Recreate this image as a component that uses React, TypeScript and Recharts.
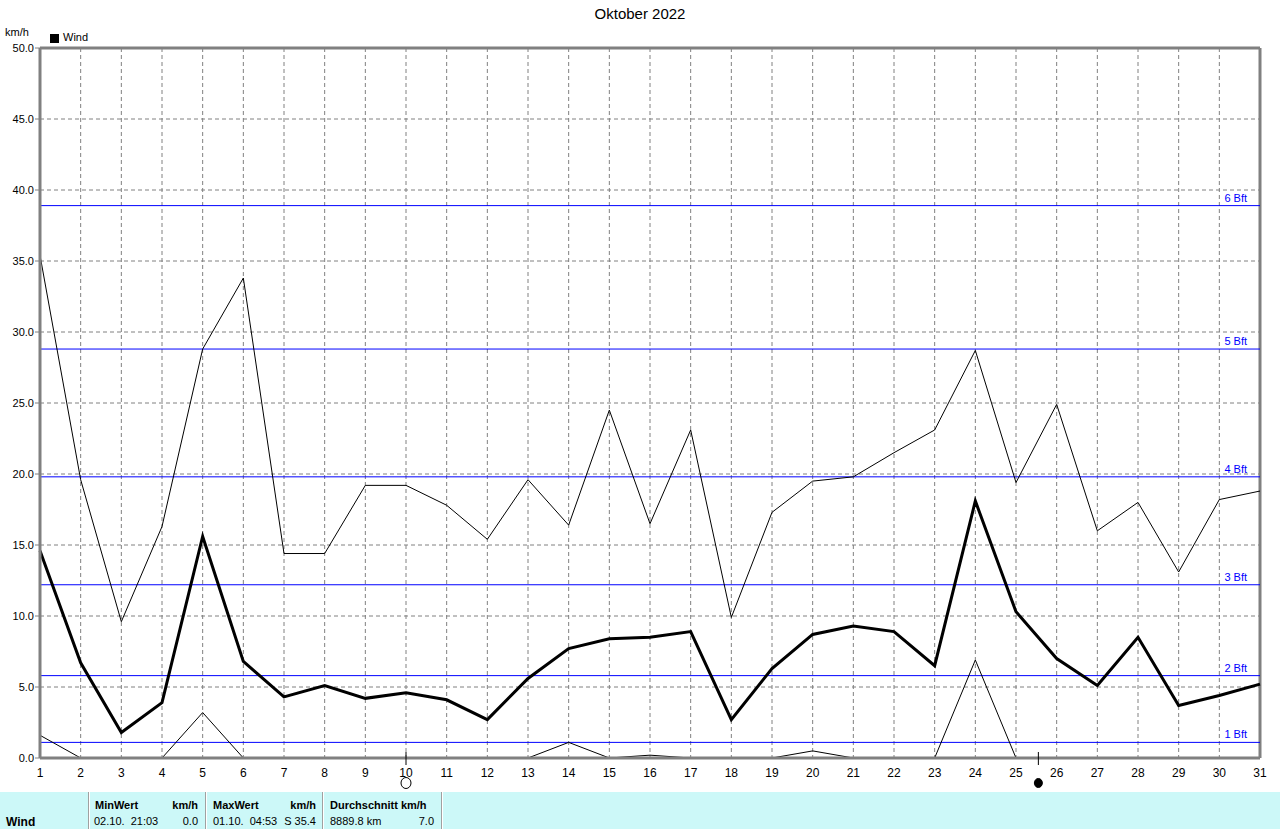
import React from 'react'
import {
  LineChart,
  Line,
  XAxis,
  YAxis,
  CartesianGrid,
  ReferenceLine,
  ReferenceDot,
} from 'recharts'

const days = [1, 2, 3, 4, 5, 6, 7, 8, 9, 10, 11, 12, 13, 14, 15, 16, 17, 18, 19, 20, 21, 22, 23, 24, 25, 26, 27, 28, 29, 30, 31]
const maxWind = [35.4, 19.6, 9.6, 16.3, 28.8, 33.8, 14.4, 14.4, 19.2, 19.2, 17.8, 15.4, 19.6, 16.4, 24.5, 16.5, 23.1, 9.9, 17.3, 19.5, 19.8, 21.5, 23.1, 28.7, 19.4, 24.9, 16.0, 18.0, 13.1, 18.2, 18.8]
const avgWind = [14.6, 6.7, 1.8, 3.9, 15.6, 6.8, 4.3, 5.1, 4.2, 4.6, 4.1, 2.7, 5.6, 7.7, 8.4, 8.5, 8.9, 2.7, 6.3, 8.7, 9.3, 8.9, 6.5, 18.1, 10.3, 7.0, 5.1, 8.5, 3.7, 4.4, 5.2]
const minWind = [1.6, 0, 0, 0, 3.2, 0, 0, 0, 0, 0, 0, 0, 0, 1.1, 0, 0.2, 0, 0, 0, 0.5, 0, 0, 0, 6.9, 0, 0, 0, 0, 0, 0, 0]
const yTicks = [0, 5, 10, 15, 20, 25, 30, 35, 40, 45, 50]
const bftLabels = ['1 Bft', '2 Bft', '3 Bft', '4 Bft', '5 Bft', '6 Bft']
const bftValues = [1.1, 5.8, 12.2, 19.8, 28.8, 38.9]
const fullMoonDay = 10
const newMoonDay = 25.55

const data = days.map((d, i) => ({ day: d, max: maxWind[i], avg: avgWind[i], min: minWind[i] }))

const font = '"Liberation Sans", Arial, sans-serif'
const gray = '#808080'
const blue = '#0000ff'

const BftLabel = ({ viewBox, text }: any) => (
  <text
    x={viewBox.x + viewBox.width - 13}
    y={viewBox.y - 4}
    textAnchor="end"
    fill="#0000ff"
    fontSize={11}
    fontFamily={font}
  >
    {text}
  </text>
)

const MoonMark = ({ cx, cy, full }: any) => (
  <g>
    <line x1={cx} y1={cy - 6} x2={cx} y2={cy + 7} stroke="#000" strokeWidth={1} />
    {full ? (
      <ellipse cx={cx} cy={cy + 25} rx={5} ry={5.5} fill="none" stroke="#000" strokeWidth={1} />
    ) : (
      <ellipse cx={cx} cy={cy + 25} rx={4} ry={4.5} fill="#000" stroke="#000" />
    )}
  </g>
)

const cell: React.CSSProperties = { position: 'absolute', whiteSpace: 'pre', fontSize: 11, fontFamily: font, color: '#000' }

export default function App() {
  return (
    <div style={{ position: 'absolute', left: 0, top: 0, width: 1280, height: 829, background: '#fff', fontFamily: font }}>
      <div style={{ position: 'absolute', left: 0, width: 1280, top: 5, textAlign: 'center', fontSize: 15 }}>Oktober 2022</div>
      <div style={{ position: 'absolute', left: 5, top: 26, fontSize: 11 }}>km/h</div>
      <div style={{ position: 'absolute', left: 50, top: 34, width: 9, height: 9, background: '#000' }} />
      <div style={{ position: 'absolute', left: 63, top: 31, fontSize: 11 }}>Wind</div>
      <div style={{ position: 'absolute', left: 0, top: 0 }}>
        <LineChart width={1280} height={829} data={data} margin={{ top: 48, right: 20, bottom: 0, left: 0 }}>
          <CartesianGrid stroke={gray} strokeDasharray="4 3" />
          <XAxis
            dataKey="day"
            type="number"
            domain={[1, 31]}
            ticks={days}
            interval={0}
            height={71}
            tickLine={false}
            tickMargin={4}
            axisLine={{ stroke: gray, strokeWidth: 3 }}
            tick={{ fill: '#000', fontSize: 12, fontFamily: font }}
          />
          <YAxis
            type="number"
            domain={[0, 50]}
            ticks={yTicks}
            width={40}
            tickSize={5}
            tickMargin={1}
            tickFormatter={(v: number) => v.toFixed(1)}
            tickLine={{ stroke: gray }}
            axisLine={{ stroke: gray, strokeWidth: 3 }}
            tick={{ fill: '#000', fontSize: 11, fontFamily: font }}
          />
          <ReferenceLine y={50} stroke={gray} strokeWidth={3} />
          <ReferenceLine x={31} stroke={gray} strokeWidth={3} />
          {bftValues.map((v, i) => (
            <ReferenceLine key={bftLabels[i]} y={v} stroke={blue} strokeWidth={1} label={(p: any) => <BftLabel {...p} text={bftLabels[i]} />} />
          ))}
          <Line dataKey="max" stroke="#000" strokeWidth={1} dot={false} isAnimationActive={false} />
          <Line dataKey="min" stroke="#000" strokeWidth={1} dot={false} isAnimationActive={false} />
          <Line dataKey="avg" stroke="#000" strokeWidth={3} dot={false} isAnimationActive={false} />
          <ReferenceDot x={fullMoonDay} y={0} ifOverflow="visible" shape={(p: any) => <MoonMark {...p} full />} />
          <ReferenceDot x={newMoonDay} y={0} ifOverflow="visible" shape={(p: any) => <MoonMark {...p} />} />
        </LineChart>
      </div>
      <div style={{ position: 'absolute', left: 0, top: 792, width: 1280, height: 37, background: '#ccf8f8' }}>
        {[88, 205, 322, 441].map((x) => (
          <div key={x} style={{ position: 'absolute', left: x, top: 0, width: 1, height: 37, background: '#a0a0a0', borderRight: '1px solid #fff' }} />
        ))}
        <div style={{ ...cell, left: 95, top: 7, fontWeight: 'bold' }}>MinWert</div>
        <div style={{ ...cell, left: 150, width: 48, top: 7, textAlign: 'right', fontWeight: 'bold' }}>km/h</div>
        <div style={{ ...cell, left: 213, top: 7, fontWeight: 'bold' }}>MaxWert</div>
        <div style={{ ...cell, left: 268, width: 48, top: 7, textAlign: 'right', fontWeight: 'bold' }}>km/h</div>
        <div style={{ ...cell, left: 330, top: 7, fontWeight: 'bold' }}>Durchschnitt km/h</div>
        <div style={{ ...cell, left: 6, top: 23, fontWeight: 'bold', fontSize: 12 }}>Wind</div>
        <div style={{ ...cell, left: 94, top: 23 }}>02.10.  21:03</div>
        <div style={{ ...cell, left: 160, width: 38, top: 23, textAlign: 'right' }}>0.0</div>
        <div style={{ ...cell, left: 213, top: 23 }}>01.10.  04:53</div>
        <div style={{ ...cell, left: 266, width: 50, top: 23, textAlign: 'right' }}>S 35.4</div>
        <div style={{ ...cell, left: 330, top: 23 }}>8889.8 km</div>
        <div style={{ ...cell, left: 394, width: 40, top: 23, textAlign: 'right' }}>7.0</div>
      </div>
    </div>
  )
}
